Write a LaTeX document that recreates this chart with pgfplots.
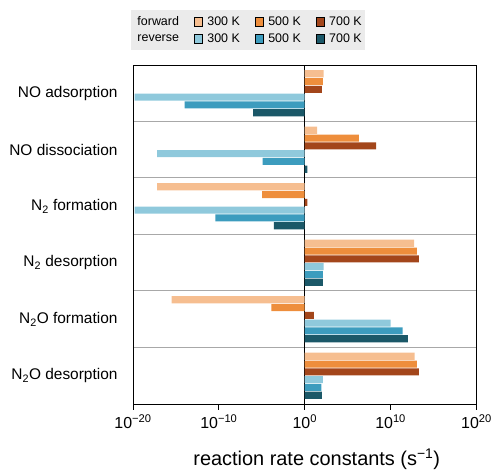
\documentclass[border=0pt]{standalone}
\usepackage{pgfplots}
\pgfplotsset{compat=1.18}
\usepackage{fontspec}
\setmainfont{Liberation Sans}
\definecolor{fA}{HTML}{F6BE90}
\definecolor{fB}{HTML}{EE8E3C}
\definecolor{fC}{HTML}{A3461B}
\definecolor{rA}{HTML}{8FC9DC}
\definecolor{rB}{HTML}{3C9CBE}
\definecolor{rC}{HTML}{1B5868}
\definecolor{sepgray}{HTML}{A8A8A8}
\definecolor{leggray}{HTML}{EBEBEB}
\begin{document}
\begin{tikzpicture}
\begin{axis}[
  scale only axis,
  width=343.5bp, height=339bp,
  xmin=-20, xmax=20,
  ymin=-0.5, ymax=5.5,
  xbar, bar width=0.125,
  axis line style={black, line width=0.9pt},
  xtick={-20,-10,0,10,20},
  xticklabels={10\textsuperscript{−20},10\textsuperscript{−10},10\textsuperscript{0},10\textsuperscript{10},10\textsuperscript{20}},
  xtick pos=bottom,
  tick align=outside,
  major tick length=6bp,
  x tick style={black, line width=0.9pt},
  xticklabel style={font=\fontsize{16}{18}\selectfont, yshift=-1bp},
  extra x ticks={0},
  extra x tick labels={},
  extra x tick style={grid=major, major grid style={black, line width=1pt}},
  ytick={0,1,2,3,4,5},
  yticklabels={N\textsubscript{2}O desorption,N\textsubscript{2}O formation,N\textsubscript{2} desorption,N\textsubscript{2} formation,NO dissociation,NO adsorption},
  y tick style={draw=none},
  ytick pos=left,
  yticklabel style={font=\fontsize{15.5}{18}\selectfont, xshift=-6bp},
  minor ytick={0.5,1.5,2.5,3.5,4.5},
  minor tick length=0pt,
  yminorgrids,
  minor grid style={sepgray, line width=1pt},
  xlabel={reaction rate constants (s\textsuperscript{−1})},
  xlabel style={font=\fontsize{20}{22}\selectfont, yshift=-1bp, xshift=12bp},
  legend columns=4,
  legend image code/.code={\fill[#1] (0bp,-4.5bp) rectangle (8bp,4.5bp);},
  legend style={at={(-0.005,1.044)}, anchor=south west, fill=leggray, draw=none,
    font=\fontsize{12.5}{14}\selectfont, column sep=3bp, row sep=3bp,
    /tikz/every even column/.append style={column sep=13bp},
    inner xsep=1bp, inner ysep=4bp},
]
\coordinate (bl) at (rel axis cs:0,0);
\coordinate (tr) at (rel axis cs:1,1);
% forward
\addplot[fill=fA, draw=none, bar shift=0.345, forget plot] coordinates {(2.2,5) (1.45,4) (-17.2,3) (12.75,2) (-15.5,1) (12.8,0)};
\addplot[fill=fB, draw=none, bar shift=0.207, forget plot] coordinates {(2.1,5) (6.3,4) (-4.95,3) (13.05,2) (-3.9,1) (13.05,0)};
\addplot[fill=fC, draw=none, bar shift=0.069, forget plot] coordinates {(2.0,5) (8.3,4) (0.3,3) (13.3,2) (1.05,1) (13.3,0)};
% reverse
\addplot[fill=rA, draw=none, bar shift=-0.069, forget plot] coordinates {(-19.8,5) (-17.2,4) (-19.8,3) (2.2,2) (10.0,1) (2.1,0)};
\addplot[fill=rB, draw=none, bar shift=-0.207, forget plot] coordinates {(-14.0,5) (-4.9,4) (-10.4,3) (2.1,2) (11.4,1) (1.95,0)};
\addplot[fill=rC, draw=none, bar shift=-0.345, forget plot] coordinates {(-6.0,5) (0.3,4) (-3.6,3) (2.1,2) (12.0,1) (2.0,0)};
\addlegendimage{empty legend}\addlegendentry{forward}
\addlegendimage{fill=fA}\addlegendentry{300 K}
\addlegendimage{fill=fB}\addlegendentry{500 K}
\addlegendimage{fill=fC}\addlegendentry{700 K}
\addlegendimage{empty legend}\addlegendentry{reverse}
\addlegendimage{fill=rA}\addlegendentry{300 K}
\addlegendimage{fill=rB}\addlegendentry{500 K}
\addlegendimage{fill=rC}\addlegendentry{700 K}
\end{axis}
\pgfresetboundingbox
\path[use as bounding box] ([xshift=-133bp,yshift=-71bp]bl) rectangle ([xshift=14.5bp,yshift=65bp]tr);
\end{tikzpicture}
\end{document}
